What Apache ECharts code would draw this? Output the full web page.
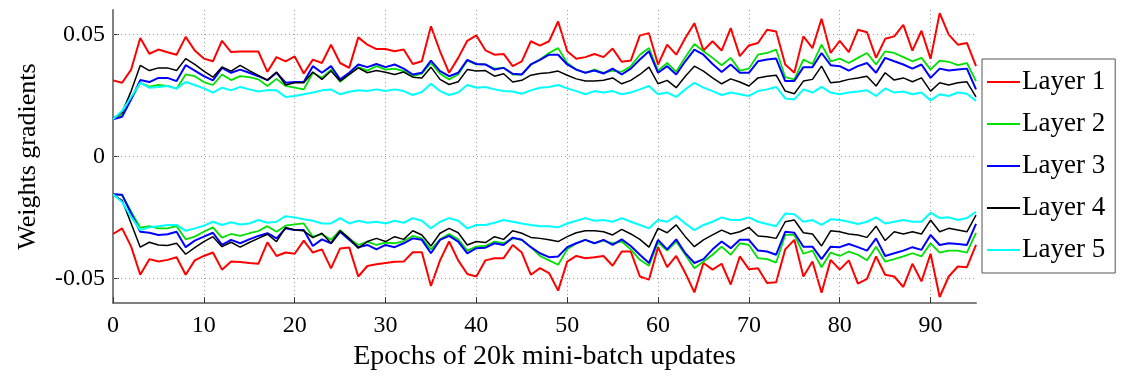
<!DOCTYPE html>
<html>
<head>
<meta charset="utf-8">
<script src="https://cdn.jsdelivr.net/npm/echarts@6/dist/echarts.min.js"></script>
<style>
html,body{margin:0;padding:0;background:#fff;}
#chart{width:1122px;height:376px;}
</style>
</head>
<body>
<div id="chart"></div>
<script>
// ---- data ----
const epochs = [0,1,2,3,4,5,6,7,8,9,10,11,12,13,14,15,16,17,18,19,20,21,22,23,24,25,26,27,28,29,30,31,32,33,34,35,36,37,38,39,40,41,42,43,44,45,46,47,48,49,50,51,52,53,54,55,56,57,58,59,60,61,62,63,64,65,66,67,68,69,70,71,72,73,74,75,76,77,78,79,80,81,82,83,84,85,86,87,88,89,90,91,92,93,94,95];
const layerNames = ['Layer 1','Layer 2','Layer 3','Layer 4','Layer 5'];
const yTickValues = [-0.05, 0, 0.05];

const layer1Pos = [0.0312,0.0302,0.0356,0.0485,0.0421,0.0438,0.0427,0.0417,0.0490,0.0434,0.0401,0.0390,0.0474,0.0428,0.0430,0.0430,0.0430,0.0347,0.0407,0.0390,0.0410,0.0340,0.0397,0.0383,0.0458,0.0383,0.0363,0.0488,0.0458,0.0440,0.0440,0.0431,0.0438,0.0379,0.0390,0.0533,0.0431,0.0343,0.0404,0.0474,0.0496,0.0435,0.0417,0.0420,0.0370,0.0390,0.0472,0.0454,0.0472,0.0553,0.0431,0.0400,0.0407,0.0420,0.0407,0.0442,0.0388,0.0393,0.0496,0.0505,0.0377,0.0458,0.0417,0.0485,0.0546,0.0434,0.0472,0.0434,0.0526,0.0411,0.0455,0.0465,0.0519,0.0512,0.0377,0.0343,0.0492,0.0444,0.0564,0.0424,0.0474,0.0428,0.0519,0.0509,0.0404,0.0482,0.0492,0.0539,0.0434,0.0515,0.0400,0.0587,0.0499,0.0458,0.0465,0.0370];
const layer1Neg = [-0.0317,-0.0294,-0.0369,-0.0484,-0.0420,-0.0430,-0.0423,-0.0412,-0.0484,-0.0425,-0.0407,-0.0393,-0.0463,-0.0430,-0.0432,-0.0436,-0.0439,-0.0351,-0.0407,-0.0393,-0.0398,-0.0344,-0.0393,-0.0380,-0.0458,-0.0376,-0.0372,-0.0491,-0.0448,-0.0441,-0.0436,-0.0431,-0.0430,-0.0392,-0.0392,-0.0530,-0.0425,-0.0348,-0.0425,-0.0481,-0.0491,-0.0425,-0.0416,-0.0416,-0.0362,-0.0393,-0.0484,-0.0457,-0.0477,-0.0549,-0.0430,-0.0407,-0.0416,-0.0412,-0.0407,-0.0447,-0.0389,-0.0389,-0.0491,-0.0504,-0.0371,-0.0453,-0.0407,-0.0477,-0.0556,-0.0436,-0.0463,-0.0439,-0.0524,-0.0409,-0.0461,-0.0457,-0.0518,-0.0515,-0.0380,-0.0341,-0.0491,-0.0430,-0.0558,-0.0423,-0.0463,-0.0425,-0.0520,-0.0501,-0.0409,-0.0484,-0.0491,-0.0534,-0.0439,-0.0511,-0.0398,-0.0575,-0.0491,-0.0450,-0.0453,-0.0362];

const layer2Pos = [0.0153,0.0170,0.0234,0.0302,0.0286,0.0293,0.0289,0.0278,0.0336,0.0329,0.0305,0.0293,0.0336,0.0313,0.0329,0.0325,0.0316,0.0289,0.0318,0.0289,0.0282,0.0275,0.0343,0.0322,0.0356,0.0306,0.0336,0.0366,0.0352,0.0370,0.0356,0.0360,0.0350,0.0329,0.0339,0.0383,0.0339,0.0316,0.0336,0.0393,0.0377,0.0377,0.0360,0.0363,0.0336,0.0336,0.0377,0.0397,0.0424,0.0444,0.0383,0.0356,0.0343,0.0356,0.0343,0.0352,0.0347,0.0370,0.0417,0.0444,0.0352,0.0383,0.0347,0.0407,0.0461,0.0431,0.0404,0.0374,0.0404,0.0352,0.0360,0.0417,0.0424,0.0438,0.0325,0.0316,0.0397,0.0379,0.0458,0.0390,0.0401,0.0383,0.0404,0.0424,0.0377,0.0431,0.0424,0.0407,0.0390,0.0404,0.0356,0.0393,0.0388,0.0374,0.0383,0.0309];
const layer2Neg = [-0.0154,-0.0159,-0.0226,-0.0291,-0.0285,-0.0294,-0.0294,-0.0285,-0.0339,-0.0328,-0.0308,-0.0290,-0.0332,-0.0317,-0.0325,-0.0314,-0.0305,-0.0285,-0.0308,-0.0283,-0.0278,-0.0274,-0.0328,-0.0318,-0.0341,-0.0301,-0.0335,-0.0362,-0.0348,-0.0362,-0.0352,-0.0355,-0.0346,-0.0325,-0.0335,-0.0380,-0.0339,-0.0317,-0.0339,-0.0385,-0.0369,-0.0366,-0.0348,-0.0355,-0.0335,-0.0341,-0.0371,-0.0407,-0.0425,-0.0443,-0.0380,-0.0355,-0.0341,-0.0355,-0.0344,-0.0355,-0.0348,-0.0380,-0.0423,-0.0447,-0.0352,-0.0385,-0.0348,-0.0402,-0.0457,-0.0430,-0.0402,-0.0369,-0.0402,-0.0355,-0.0362,-0.0416,-0.0420,-0.0434,-0.0321,-0.0321,-0.0398,-0.0385,-0.0453,-0.0393,-0.0407,-0.0389,-0.0402,-0.0425,-0.0369,-0.0430,-0.0420,-0.0409,-0.0396,-0.0409,-0.0355,-0.0393,-0.0385,-0.0385,-0.0393,-0.0312];

const layer3Pos = [0.0153,0.0163,0.0234,0.0313,0.0305,0.0322,0.0322,0.0309,0.0374,0.0352,0.0329,0.0312,0.0363,0.0343,0.0356,0.0343,0.0329,0.0313,0.0343,0.0302,0.0305,0.0305,0.0370,0.0343,0.0370,0.0316,0.0343,0.0377,0.0366,0.0379,0.0366,0.0377,0.0360,0.0336,0.0343,0.0393,0.0350,0.0329,0.0343,0.0396,0.0379,0.0377,0.0356,0.0363,0.0339,0.0336,0.0377,0.0396,0.0417,0.0417,0.0377,0.0356,0.0343,0.0352,0.0340,0.0360,0.0336,0.0360,0.0397,0.0431,0.0343,0.0370,0.0336,0.0390,0.0438,0.0417,0.0379,0.0346,0.0377,0.0343,0.0343,0.0390,0.0397,0.0401,0.0309,0.0309,0.0366,0.0366,0.0424,0.0374,0.0370,0.0352,0.0370,0.0383,0.0343,0.0404,0.0390,0.0377,0.0360,0.0377,0.0322,0.0360,0.0352,0.0356,0.0360,0.0275];
const layer3Neg = [-0.0154,-0.0156,-0.0233,-0.0308,-0.0312,-0.0321,-0.0318,-0.0308,-0.0371,-0.0344,-0.0328,-0.0312,-0.0362,-0.0341,-0.0355,-0.0339,-0.0325,-0.0314,-0.0335,-0.0294,-0.0301,-0.0301,-0.0366,-0.0339,-0.0355,-0.0308,-0.0341,-0.0371,-0.0362,-0.0380,-0.0362,-0.0371,-0.0355,-0.0335,-0.0341,-0.0396,-0.0341,-0.0325,-0.0348,-0.0396,-0.0375,-0.0373,-0.0355,-0.0362,-0.0332,-0.0341,-0.0371,-0.0396,-0.0412,-0.0409,-0.0371,-0.0355,-0.0341,-0.0355,-0.0341,-0.0362,-0.0339,-0.0366,-0.0402,-0.0436,-0.0341,-0.0380,-0.0339,-0.0396,-0.0436,-0.0420,-0.0380,-0.0348,-0.0375,-0.0341,-0.0341,-0.0385,-0.0389,-0.0402,-0.0308,-0.0312,-0.0369,-0.0369,-0.0420,-0.0369,-0.0371,-0.0358,-0.0371,-0.0385,-0.0335,-0.0407,-0.0396,-0.0385,-0.0371,-0.0382,-0.0321,-0.0362,-0.0355,-0.0358,-0.0362,-0.0276];

const layer4Pos = [0.0156,0.0180,0.0268,0.0373,0.0352,0.0363,0.0363,0.0352,0.0401,0.0377,0.0350,0.0325,0.0367,0.0350,0.0373,0.0352,0.0332,0.0313,0.0346,0.0293,0.0302,0.0302,0.0346,0.0316,0.0350,0.0309,0.0336,0.0363,0.0343,0.0352,0.0345,0.0336,0.0346,0.0325,0.0322,0.0366,0.0316,0.0295,0.0306,0.0356,0.0350,0.0352,0.0329,0.0339,0.0305,0.0312,0.0333,0.0340,0.0343,0.0350,0.0333,0.0318,0.0309,0.0309,0.0312,0.0322,0.0298,0.0312,0.0336,0.0366,0.0298,0.0312,0.0282,0.0329,0.0370,0.0350,0.0322,0.0298,0.0318,0.0305,0.0289,0.0322,0.0329,0.0333,0.0268,0.0257,0.0309,0.0316,0.0370,0.0302,0.0306,0.0316,0.0322,0.0329,0.0289,0.0343,0.0313,0.0322,0.0306,0.0322,0.0268,0.0302,0.0293,0.0302,0.0306,0.0244];
const layer4Neg = [-0.0156,-0.0179,-0.0274,-0.0371,-0.0351,-0.0362,-0.0364,-0.0355,-0.0400,-0.0373,-0.0348,-0.0328,-0.0369,-0.0351,-0.0371,-0.0352,-0.0335,-0.0318,-0.0348,-0.0290,-0.0301,-0.0304,-0.0332,-0.0314,-0.0355,-0.0304,-0.0335,-0.0375,-0.0348,-0.0335,-0.0348,-0.0328,-0.0339,-0.0304,-0.0321,-0.0366,-0.0314,-0.0294,-0.0312,-0.0362,-0.0348,-0.0352,-0.0328,-0.0339,-0.0304,-0.0314,-0.0331,-0.0335,-0.0341,-0.0348,-0.0328,-0.0312,-0.0304,-0.0304,-0.0308,-0.0321,-0.0298,-0.0317,-0.0339,-0.0371,-0.0294,-0.0312,-0.0280,-0.0328,-0.0369,-0.0341,-0.0321,-0.0301,-0.0317,-0.0308,-0.0290,-0.0325,-0.0328,-0.0335,-0.0267,-0.0260,-0.0312,-0.0317,-0.0366,-0.0304,-0.0308,-0.0317,-0.0321,-0.0331,-0.0285,-0.0344,-0.0308,-0.0317,-0.0308,-0.0317,-0.0260,-0.0308,-0.0294,-0.0301,-0.0308,-0.0240];

const layer5Pos = [0.0153,0.0187,0.0244,0.0302,0.0282,0.0285,0.0289,0.0278,0.0305,0.0293,0.0279,0.0262,0.0282,0.0271,0.0285,0.0275,0.0266,0.0272,0.0271,0.0244,0.0248,0.0255,0.0262,0.0271,0.0275,0.0255,0.0265,0.0271,0.0268,0.0275,0.0268,0.0275,0.0268,0.0252,0.0264,0.0298,0.0268,0.0252,0.0262,0.0293,0.0282,0.0285,0.0275,0.0268,0.0266,0.0257,0.0271,0.0282,0.0285,0.0293,0.0279,0.0268,0.0255,0.0268,0.0262,0.0268,0.0255,0.0262,0.0275,0.0289,0.0255,0.0262,0.0244,0.0275,0.0302,0.0282,0.0268,0.0252,0.0262,0.0255,0.0248,0.0268,0.0275,0.0285,0.0238,0.0234,0.0275,0.0262,0.0285,0.0262,0.0255,0.0262,0.0266,0.0271,0.0248,0.0279,0.0262,0.0266,0.0255,0.0262,0.0230,0.0255,0.0248,0.0262,0.0257,0.0228];
const layer5Neg = [-0.0154,-0.0186,-0.0247,-0.0301,-0.0290,-0.0285,-0.0280,-0.0280,-0.0304,-0.0294,-0.0283,-0.0267,-0.0280,-0.0269,-0.0278,-0.0274,-0.0260,-0.0271,-0.0267,-0.0244,-0.0249,-0.0257,-0.0263,-0.0274,-0.0274,-0.0252,-0.0274,-0.0263,-0.0271,-0.0267,-0.0274,-0.0263,-0.0271,-0.0252,-0.0263,-0.0294,-0.0267,-0.0252,-0.0263,-0.0294,-0.0280,-0.0280,-0.0271,-0.0260,-0.0267,-0.0274,-0.0280,-0.0285,-0.0285,-0.0290,-0.0274,-0.0263,-0.0252,-0.0263,-0.0260,-0.0267,-0.0252,-0.0267,-0.0280,-0.0294,-0.0260,-0.0267,-0.0244,-0.0274,-0.0301,-0.0280,-0.0267,-0.0249,-0.0260,-0.0260,-0.0249,-0.0267,-0.0276,-0.0285,-0.0233,-0.0236,-0.0267,-0.0260,-0.0280,-0.0257,-0.0260,-0.0267,-0.0276,-0.0267,-0.0249,-0.0274,-0.0267,-0.0260,-0.0267,-0.0267,-0.0230,-0.0252,-0.0249,-0.0260,-0.0252,-0.0226];

// ---- chart ----
const FONT = "'Liberation Serif','Times New Roman',serif";
const colors = ['#ff0000', '#00e000', '#0000ff', '#000000', '#00ffff'];
const widths = [2, 1.8, 2, 1.5, 2];
const gridStyle = { color: '#999', width: 1, type: [1, 3] };
const layerData = [
  [layer1Pos, layer1Neg],
  [layer2Pos, layer2Neg],
  [layer3Pos, layer3Neg],
  [layer4Pos, layer4Neg],
  [layer5Pos, layer5Neg]
];

const series = [];
layerData.forEach((pair, i) => {
  pair.forEach((vals, j) => {
    const s = {
      name: layerNames[i],
      type: 'line',
      data: vals,
      symbol: 'none',
      showSymbol: false,
      smooth: false,
      color: colors[i],
      lineStyle: { color: colors[i], width: widths[i] },
      z: 3 + i
    };
    if (i === 0 && j === 0) {
      s.markLine = {
        silent: true,
        symbol: ['none', 'none'],
        label: { show: false },
        lineStyle: gridStyle,
        data: yTickValues.map(v => ({ yAxis: v }))
      };
    }
    series.push(s);
  });
});

const chart = echarts.init(document.getElementById('chart'), null, { renderer: 'canvas' });
chart.setOption({
  animation: false,
  backgroundColor: '#ffffff',
  grid: { left: 113, right: 146, top: 10, bottom: 72, containLabel: false },
  legend: {
    data: layerNames.map(n => ({ name: n, icon: 'rect' })),
    orient: 'vertical',
    left: 982,
    top: 59,
    padding: [8, 10, 8, 5],
    itemGap: 12,
    itemWidth: 33,
    itemHeight: 2,
    borderColor: '#555',
    borderWidth: 1,
    backgroundColor: '#fff',
    selectedMode: false,
    textStyle: { fontFamily: FONT, fontSize: 27, color: '#000', lineHeight: 30, padding: [0, 0, 0, -3] }
  },
  xAxis: {
    type: 'category',
    data: epochs,
    boundaryGap: false,
    name: 'Epochs of 20k mini-batch updates',
    nameLocation: 'middle',
    nameGap: 37,
    nameTextStyle: { fontFamily: FONT, fontSize: 28, color: '#000' },
    axisLine: { show: true, onZero: false, lineStyle: { color: '#808080', width: 2 } },
    axisTick: { show: true, inside: true, interval: 9, length: 6, lineStyle: { color: '#333', width: 1 } },
    axisLabel: { interval: 9, margin: 11, fontFamily: FONT, fontSize: 24, color: '#000' },
    splitLine: { show: true, interval: 9, lineStyle: gridStyle }
  },
  yAxis: {
    type: 'value',
    min: -0.06,
    max: 0.06,
    name: 'Weights gradients',
    nameLocation: 'middle',
    nameGap: 72,
    nameTextStyle: { fontFamily: FONT, fontSize: 26, color: '#000' },
    axisLine: { show: true, onZero: false, lineStyle: { color: '#808080', width: 2 } },
    axisTick: { show: true, inside: true, length: 6, customValues: yTickValues, lineStyle: { color: '#333', width: 1 } },
    axisLabel: { customValues: yTickValues, margin: 8, fontFamily: FONT, fontSize: 24, color: '#000',
      formatter: (v) => (v === 0 ? '0' : String(v)) },
    splitLine: { show: false }
  },
  series: series
});
</script>
</body>
</html>
